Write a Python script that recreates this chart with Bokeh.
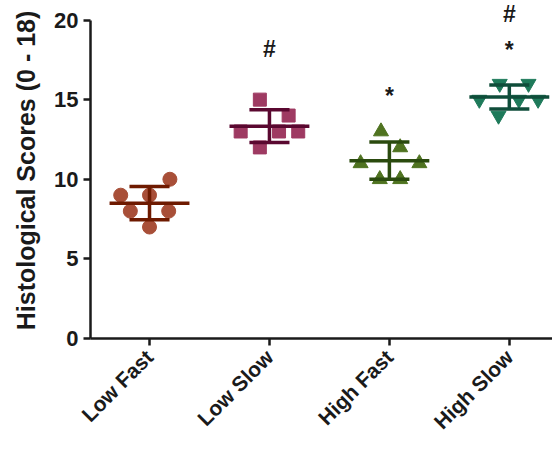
import numpy as np
from bokeh.plotting import figure
from bokeh.models import Range1d, FixedTicker, Label
from bokeh.embed import file_html
from bokeh.resources import INLINE

groups = ["Low Fast", "Low Slow", "High Fast", "High Slow"]
low_fast = [10, 9, 9, 8, 8, 7]
low_slow = [15, 14, 13, 13, 13, 12]
high_fast = [13, 12, 11, 11, 10, 10]
high_slow = [16, 16, 15, 15, 15, 14]
# horizontal scatter offsets of each point within its column (category units)
low_fast_jit = [0.17, -0.24, 0.0, -0.16, 0.16, 0.0]
low_slow_jit = [-0.08, 0.16, -0.24, 0.08, 0.24, -0.08]
high_fast_jit = [-0.07, 0.09, -0.24, 0.25, -0.08, 0.09]
high_slow_jit = [-0.08, 0.16, -0.25, 0.08, 0.24, -0.09]
y_ticks = [0, 5, 10, 15, 20]
# significance marks: (group index, symbol, y)
sig_groups = [1, 2, 3, 3]
sig_text = ["#", "*", "*", "#"]
sig_y = [18.15, 15.25, 18.1, 20.35]

series = [low_fast, low_slow, high_fast, high_slow]
jitters = [low_fast_jit, low_slow_jit, high_fast_jit, high_slow_jit]
markers = ["circle", "square", "triangle", "inverted_triangle"]
sizes = [14, 13, 15, 15]
fill_cols = ["#a84f38", "#9e3a62", "#4f7320", "#1e7a5a"]
line_cols = ["#6e1a00", "#5a0830", "#2a4a0e", "#0f4d3a"]

p = figure(width=552, height=444, output_backend="svg", toolbar_location=None,
           x_range=Range1d(0.508, 4.36), y_range=Range1d(0, 21.1),
           min_border_left=90, min_border_right=0, min_border_top=2, min_border_bottom=103)
p.outline_line_color = None
p.grid.grid_line_color = None

font = "Liberation Sans"
for ax in (p.xaxis[0], p.yaxis[0]):
    ax.axis_line_width = 2.5
    ax.axis_line_color = "#1a1a1a"
    ax.major_tick_line_width = 2.5
    ax.major_tick_line_color = "#1a1a1a"
    ax.major_tick_out = 7
    ax.major_tick_in = 0
    ax.minor_tick_line_color = None
    ax.major_label_text_font = font
    ax.major_label_text_font_style = "bold"
    ax.major_label_text_color = "#1a1a1a"

p.yaxis.major_label_text_font_size = "22px"
p.xaxis.major_label_text_font_size = "21px"

p.yaxis.ticker = FixedTicker(ticks=y_ticks)
p.yaxis.bounds = (0, 20)
p.yaxis.axis_label = "Histological Scores (0 - 18)"
p.yaxis.axis_label_text_font = font
p.yaxis.axis_label_text_font_style = "bold"
p.yaxis.axis_label_text_font_size = "25px"
p.yaxis.axis_label_text_color = "#1a1a1a"
p.yaxis.axis_label_standoff = 11
p.yaxis.major_label_standoff = 5

p.xaxis.ticker = FixedTicker(ticks=[i + 1 for i in range(len(groups))])
p.xaxis.major_label_overrides = {i + 1: g for i, g in enumerate(groups)}
p.xaxis.major_label_orientation = np.pi / 4
p.xaxis.major_label_standoff = 8

for i, (vals, jit) in enumerate(zip(series, jitters)):
    xc = i + 1
    xs = [xc + j for j in jit]
    p.scatter(xs, vals, marker=markers[i], size=sizes[i], fill_color=fill_cols[i],
              line_color=fill_cols[i])

for i, vals in enumerate(series):
    xc = i + 1
    m = float(np.mean(vals))
    sd = float(np.std(vals, ddof=1))
    lc = line_cols[i]
    p.segment(x0=[xc - 0.333], y0=[m], x1=[xc + 0.333], y1=[m], line_color=lc, line_width=3.5)
    p.segment(x0=[xc], y0=[m - sd], x1=[xc], y1=[m + sd], line_color=lc, line_width=3.5)
    p.segment(x0=[xc - 0.167, xc - 0.167], y0=[m - sd, m + sd],
              x1=[xc + 0.167, xc + 0.167], y1=[m - sd, m + sd], line_color=lc, line_width=3.5)

for g, t, y in zip(sig_groups, sig_text, sig_y):
    p.add_layout(Label(x=g + 1, y=y, text=t, text_align="center", text_baseline="middle",
                       text_font=font, text_font_style="bold", text_font_size="23px",
                       text_color="#1a1a1a"))

open("out.html", "w").write(file_html(p, INLINE))
